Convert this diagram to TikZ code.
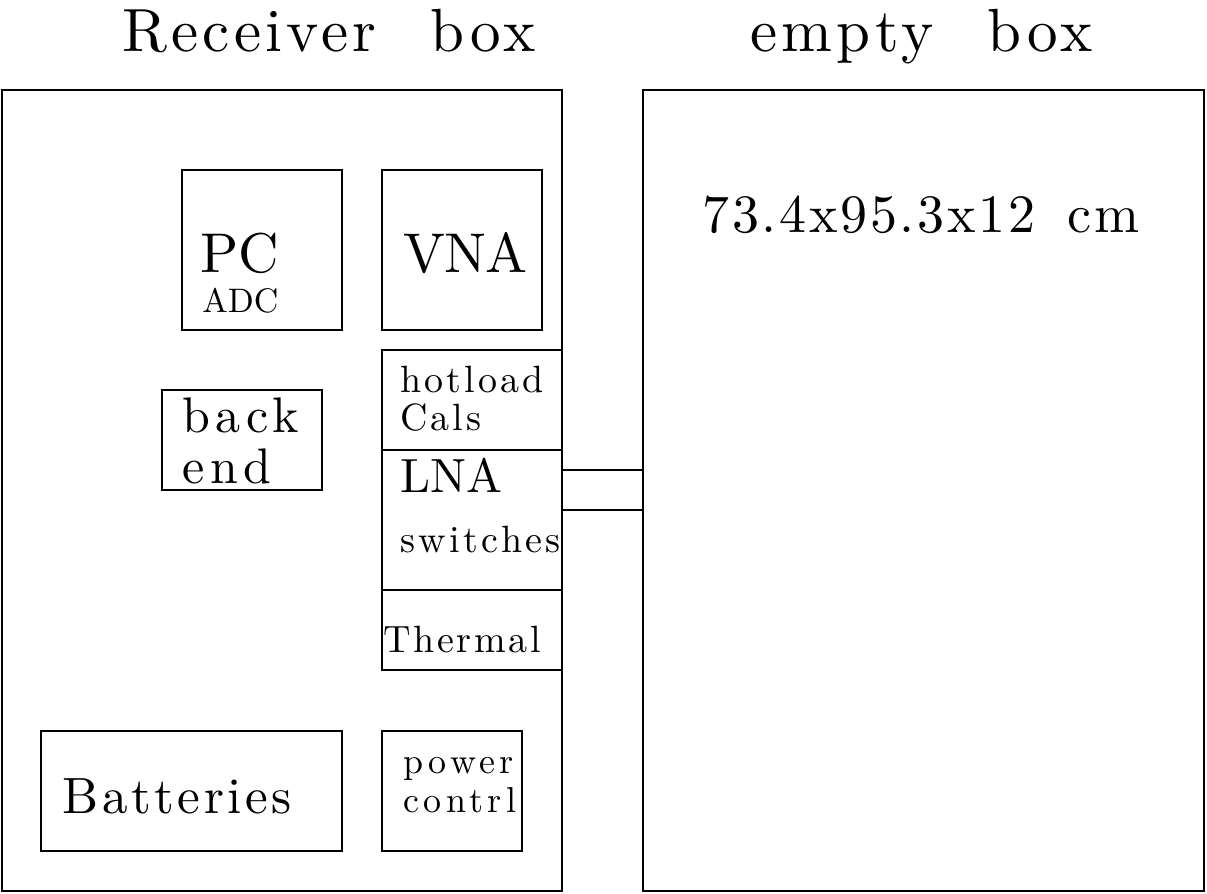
\documentclass[tikz,border=0pt]{standalone}
\usepackage{fontspec}
\usetikzlibrary{positioning}
\newfontfamily\plotfont[WordSpace=2.2]{lmroman10-regular.otf}
% size, line skip, letter spacing
\newcommand{\sz}[3]{\plotfont\fontsize{#1}{#2}\selectfont\addfontfeatures{LetterSpace=#3}}
\tikzset{%
  box/.style={draw, line width=0.8pt, inner sep=0pt, outer sep=0pt},
  lbl/.style={anchor=base west, inner sep=0pt, align=left},
  every edge/.style={draw, line width=0.8pt}
}

\begin{document}
\begin{tikzpicture}[x=0.5pt, y=-0.5pt]
  \useasboundingbox (0,0) rectangle (1207,894);

  % the two boxes
  \node[box, minimum width=280pt, minimum height=400.5pt] (rcv) at (282,490.5) {};
  \node[box, minimum width=280.5pt, minimum height=400.5pt] (empty) at (923.5,490.5) {};
  \node[lbl] (rcvtitle) at (122,52) {\sz{30.5}{32}{7}Receiver box};
  \node[lbl] (emptytitle) at (750,52) {\sz{30.5}{32}{7}empty box};
  \node[lbl] (dims) at (702,232) {\sz{27}{30}{5}\spaceskip=0.6em 73.4x95.3x12 cm};

  % inside the receiver box
  \node[box, minimum width=80pt, minimum height=80pt] (pc) at (262,250) {};
  \node[box, minimum width=80pt, minimum height=80pt, right=20pt of pc] (vna) {};
  \node[box, minimum width=90pt, minimum height=50pt,
        below right=10pt and 0pt of vna.south west] (hot) {};
  \node[box, minimum width=90pt, minimum height=70pt, below=0pt of hot] (lna) {};
  \node[box, minimum width=90pt, minimum height=40pt, below=0pt of lna] (therm) {};
  \node[box, minimum width=80pt, minimum height=50pt] (backend) at (242,440) {};
  \node[box, minimum width=150.5pt, minimum height=60pt] (batt) at (191.5,791) {};
  \node[box, minimum width=70pt, minimum height=60pt] (power) at (452,791) {};

  \node[lbl] (pclbl) at (200,272) {\sz{28}{32}{0}PC};
  \node[lbl] (adclbl) at (202,312) {\sz{17}{20}{0}ADC};
  \node[lbl] (vnalbl) at (403,272) {\sz{28}{32}{-2}VNA};
  \node[lbl, font=\sz{19}{19}{8}] (hotlbl) at (400,430) {hotload\\Cals};
  \node[lbl] (lnalbl) at (400,492) {\sz{24}{26}{0}LNA};
  \node[lbl] (swlbl) at (400,552) {\sz{19}{19}{9}switches};
  \node[lbl] (thermlbl) at (383,652) {\sz{19}{19}{7}Thermal};
  \node[lbl, font=\sz{25}{25.5}{11}] (backlbl) at (182,483) {back\\end};
  \node[lbl] (battlbl) at (62,813) {\sz{25.5}{27}{7}Batteries};
  \node[lbl, font=\sz{18}{19.5}{12}] (powerlbl) at (403,812) {power\\contrl};

  % cables to the empty box
  \coordinate (cabA) at ([yshift=25pt]lna.east);
  \coordinate (cabB) at ([yshift=5pt]lna.east);
  \draw
        (cabA) edge (cabA -| empty.west)
        (cabB) edge (cabB -| empty.west)
  ;

\end{tikzpicture}
\end{document}
